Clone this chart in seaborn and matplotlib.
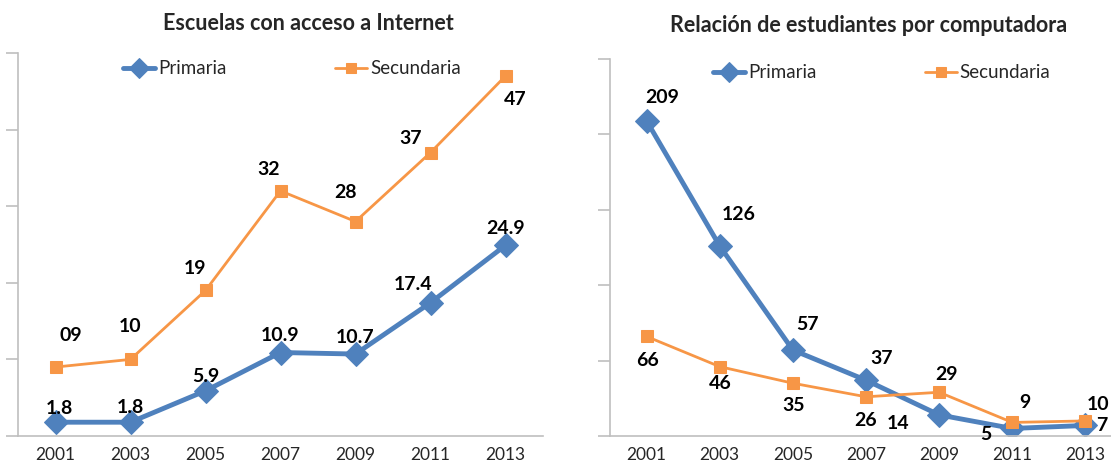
import numpy as np
import pandas as pd
import matplotlib
matplotlib.use('Agg')
import matplotlib.pyplot as plt
import seaborn as sns

# datos
years = ['2001', '2003', '2005', '2007', '2009', '2011', '2013']
internet_primaria = [1.8, 1.8, 5.9, 10.9, 10.7, 17.4, 24.9]
internet_secundaria = [9, 10, 19, 32, 28, 37, 47]
internet_sec_labels = ['09', '10', '19', '32', '28', '37', '47']
ratio_primaria = [209, 126, 57, 37, 14, 5, 7]
ratio_secundaria = [66, 46, 35, 26, 29, 9, 10]

sns.set_style('white')
plt.rcParams['font.family'] = ['Lato', 'DejaVu Sans']

blue = '#4F81BD'
orange = '#F79646'
spine_gray = '#BFBFBF'

fig = plt.figure(figsize=(11.11, 4.62), dpi=100)
ax1 = fig.add_axes([18 / 1111, 26 / 462, 525 / 1111, 383 / 462])
ax2 = fig.add_axes([610 / 1111, 26 / 462, 512 / 1111, 377 / 462])

df1 = pd.DataFrame({'anio': years, 'Primaria': internet_primaria, 'Secundaria': internet_secundaria})
df2 = pd.DataFrame({'anio': years, 'Primaria': ratio_primaria, 'Secundaria': ratio_secundaria})


def draw(ax, df, title, ymax, title_x, title_y, leg_x, leg_y):
    sns.lineplot(data=df, x='anio', y='Primaria', ax=ax, color=blue, linewidth=3.5,
                 marker='D', markersize=12, markeredgecolor=blue, label='Primaria')
    sns.lineplot(data=df, x='anio', y='Secundaria', ax=ax, color=orange, linewidth=2,
                 marker='s', markersize=9, markeredgecolor=orange, label='Secundaria')
    ax.set_xlim(-0.5, 6.5)
    ax.set_ylim(0, ymax)
    ax.set_yticks(np.linspace(0, ymax, 6))
    ax.set_yticklabels([])
    ax.set_xlabel('')
    ax.set_ylabel('')
    for s in ['top', 'right']:
        ax.spines[s].set_visible(False)
    for s in ['left', 'bottom']:
        ax.spines[s].set_color(spine_gray)
        ax.spines[s].set_linewidth(1.2)
    ax.tick_params(axis='y', length=9, color=spine_gray, width=1.2, left=True)
    ax.tick_params(axis='x', length=0, labelsize=12.5, pad=8)
    ax.set_title(title, fontsize=15.5, fontweight='bold', pad=0, x=title_x, y=title_y)
    ax.legend(loc='center', bbox_to_anchor=(leg_x, leg_y), ncol=2, frameon=False,
              fontsize=13.5, columnspacing=5.8, handlelength=1.7, handletextpad=0.15,
              borderaxespad=0, markerscale=0.85)


draw(ax1, df1, 'Escuelas con acceso a Internet', 50, 0.553, 1.06, 0.522, 1 - 16 / 383)
draw(ax2, df2, 'Relación de estudiantes por computadora', 250, 0.505, 1.072, 0.531, 1 - 14 / 377)

# etiquetas de datos (desplazamientos en pixeles)
off_ip = [(4, 14), (0, 15), (0, 14), (0, 17), (0, 17), (-17, 18), (0, 17)]
off_is = [(15, 32), (0, 33), (-10, 22), (-12, 21), (-10, 29), (-20, 14), (10, -24)]
off_rp = [(16, 23), (19, 31), (15, 26), (16, 22), (-41, -9), (-26, -6), (16, 0)]
off_rs = [(1, -24), (1, -17), (1, -22), (0, -24), (7, 18), (13, 20), (13, 16)]

lab_kw = dict(textcoords='offset pixels', ha='center', va='center', fontsize=14,
              fontweight='bold', color='black')
for i in range(len(years)):
    ax1.annotate(f'{internet_primaria[i]:.1f}', (i, internet_primaria[i]), xytext=off_ip[i], **lab_kw)
    ax1.annotate(internet_sec_labels[i], (i, internet_secundaria[i]), xytext=off_is[i], **lab_kw)
    ax2.annotate(str(ratio_primaria[i]), (i, ratio_primaria[i]), xytext=off_rp[i], **lab_kw)
    ax2.annotate(str(ratio_secundaria[i]), (i, ratio_secundaria[i]), xytext=off_rs[i], **lab_kw)

plt.savefig('out.png', dpi=100)
